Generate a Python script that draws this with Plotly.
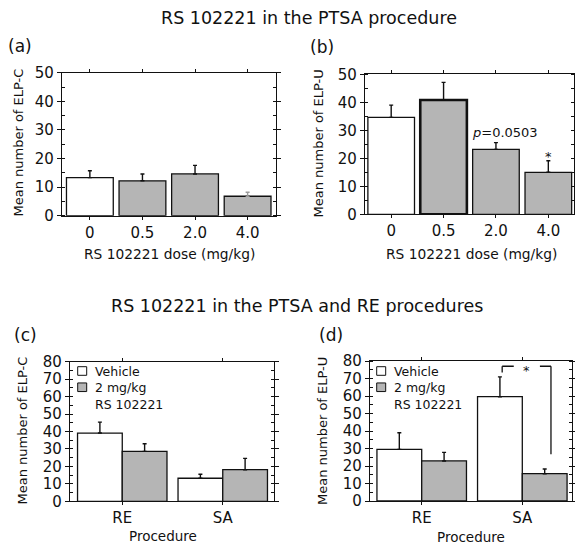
import plotly.graph_objects as go

# ---------------- data ----------------
doses = ["0", "0.5", "2.0", "4.0"]
elpc_mean = [13.3, 12.2, 14.6, 6.8]
elpc_sem = [2.4, 2.4, 3.0, 1.4]
elpu_mean = [34.6, 40.8, 23.2, 15.0]
elpu_sem = [4.4, 6.3, 2.4, 4.1]

procedures = ["RE", "SA"]
c_vehicle_mean = [39.1, 13.2]
c_vehicle_sem = [6.3, 2.3]
c_drug_mean = [28.6, 18.1]
c_drug_sem = [4.4, 6.5]
d_vehicle_mean = [29.5, 59.6]
d_vehicle_sem = [9.5, 11.3]
d_drug_mean = [22.9, 15.6]
d_drug_sem = [4.9, 2.7]

# ---------------- style ----------------
FONT = "DejaVu Sans"
INK = "#111111"
GRAY = "#b5b5b5"
W, H = 575, 551
BARGAP = 0.11


def px(x):
    return x / W


def py(y):
    return 1 - y / H


def err(values, color=INK):
    return dict(type="data", array=values, arrayminus=[0] * len(values),
                symmetric=False, color=color, thickness=1.4, width=2)


fig = go.Figure()

# (a) ELP-C dose response
a_err = [e if i < 3 else None for i, e in enumerate(elpc_sem)]
fig.add_trace(go.Bar(
    x=doses, y=elpc_mean, xaxis="x", yaxis="y",
    marker=dict(color=["white", GRAY, GRAY, GRAY], line=dict(color=INK, width=1.3)),
    error_y=err(a_err), showlegend=False))
fig.add_trace(go.Scatter(
    x=doses[3:], y=elpc_mean[3:], xaxis="x", yaxis="y", mode="markers",
    marker=dict(size=1, opacity=0), error_y=err(elpc_sem[3:], "#9a9a9a"),
    showlegend=False, hoverinfo="skip"))

# (b) ELP-U dose response
fig.add_trace(go.Bar(
    x=doses, y=elpu_mean, xaxis="x2", yaxis="y2",
    marker=dict(color=["white", GRAY, GRAY, GRAY],
                line=dict(color=INK, width=[1.3, 2.6, 1.3, 1.3])),
    error_y=err(elpu_sem), showlegend=False))

# (c) ELP-C, RE vs SA
fig.add_trace(go.Bar(x=procedures, y=c_vehicle_mean, xaxis="x3", yaxis="y3", name="Vehicle",
                     marker=dict(color="white", line=dict(color=INK, width=1.3)),
                     error_y=err(c_vehicle_sem), showlegend=False))
fig.add_trace(go.Bar(x=procedures, y=c_drug_mean, xaxis="x3", yaxis="y3", name="2 mg/kg RS 102221",
                     marker=dict(color=GRAY, line=dict(color=INK, width=1.3)),
                     error_y=err(c_drug_sem), showlegend=False))

# (d) ELP-U, RE vs SA
fig.add_trace(go.Bar(x=procedures, y=d_vehicle_mean, xaxis="x4", yaxis="y4", name="Vehicle",
                     marker=dict(color="white", line=dict(color=INK, width=1.3)),
                     error_y=err(d_vehicle_sem), showlegend=False))
fig.add_trace(go.Bar(x=procedures, y=d_drug_mean, xaxis="x4", yaxis="y4", name="2 mg/kg RS 102221",
                     marker=dict(color=GRAY, line=dict(color=INK, width=1.3)),
                     error_y=err(d_drug_sem), showlegend=False))


def yax(domain, top, anchor):
    return dict(domain=domain, range=[0, top], anchor=anchor, tickmode="linear", tick0=0, dtick=10,
                ticks="outside", ticklen=4, tickwidth=1.2, tickcolor=INK,
                showline=True, linecolor=INK, linewidth=1.3, mirror="ticks",
                showgrid=False, zeroline=False, automargin=False, fixedrange=True,
                tickfont=dict(family=FONT, size=15, color=INK),
                minor=dict(ticks="inside", tick0=0, dtick=5, ticklen=3, tickwidth=1,
                           tickcolor=INK, showgrid=False))


def xax(domain, rng, anchor):
    return dict(domain=domain, range=rng, anchor=anchor, type="category",
                ticks="outside", ticklen=3, tickwidth=1.2, tickcolor=INK,
                showline=True, linecolor=INK, linewidth=1.3, mirror="ticks",
                showgrid=False, zeroline=False, automargin=False, fixedrange=True,
                tickfont=dict(family=FONT, size=15, color=INK))


ann = []


def text(x, y, s, size=14, xanchor="center", yanchor="middle", angle=0, **kw):
    ann.append(dict(x=x, y=y, xref="paper", yref="paper", text=s, showarrow=False,
                    xanchor=xanchor, yanchor=yanchor, textangle=angle,
                    font=dict(family=FONT, size=size, color=INK), **kw))


# titles and panel labels
text(px(308.5), py(18), "RS 102221 in the PTSA procedure", size=17.5)
text(px(297), py(306), "RS 102221 in the PTSA and RE procedures", size=17.5)
text(px(6), py(46), "(a)", size=17, xanchor="left")
text(px(308), py(47), "(b)", size=17, xanchor="left")
text(px(12), py(335), "(c)", size=17, xanchor="left")
text(px(317), py(335), "(d)", size=17, xanchor="left")

# axis titles
text(px(169), py(253.5), "RS 102221 dose (mg/kg)", size=13.8)
text(px(471), py(253.5), "RS 102221 dose (mg/kg)", size=13.8)
text(px(163), py(536), "Procedure", size=13.5)
text(px(471), py(537), "Procedure", size=13.5)
text(px(17.5), py(143), "Mean number of ELP-C", size=13, angle=-90)
text(px(317.5), py(144), "Mean number of ELP-U", size=13, angle=-90)
text(px(21.5), py(431), "Mean number of ELP-C", size=13, angle=-90)
text(px(322), py(431), "Mean number of ELP-U", size=13, angle=-90)

# legends in (c) and (d): swatches + one wrapped text block
LEG_SIZE = 12.5
LINE = LEG_SIZE * 1.3
shapes = []
for left in (77.7, 376.7):
    first = 371
    for k, fill in enumerate(("white", GRAY)):
        cy = first + k * LINE
        shapes.append(dict(type="rect", xref="paper", yref="paper",
                           x0=px(left), x1=px(left + 9), y0=py(cy - 4.3), y1=py(cy + 4.3),
                           fillcolor=fill, line=dict(color=INK, width=1)))
    text(px(left + 15.5), py(first - LINE / 2 - 1), "Vehicle<br>2 mg/kg<br>RS 102221",
         size=LEG_SIZE, xanchor="left", yanchor="top", align="left")

# significance annotations in (b)
ann.append(dict(x=2, y=elpu_mean[2] + elpu_sem[2], xref="x2", yref="y2",
                text="<i>p</i>=0.0503", showarrow=False, xanchor="center", yanchor="bottom",
                xshift=9, yshift=1, font=dict(family=FONT, size=13, color=INK)))
ann.append(dict(x=3, y=elpu_mean[3] + elpu_sem[3], xref="x2", yref="y2",
                text="*", showarrow=False, xanchor="center", yanchor="middle",
                yshift=4, font=dict(family=FONT, size=13, color=INK)))

# bracket in (d) (category units on x4)
br_left, br_right = 0.80, 1.285
br_gap_l, br_gap_r = 0.915, 1.175
br_top, br_left_end, br_right_end = 77, 73.5, 26.7
bl = dict(color=INK, width=1.3)
shapes += [
    dict(type="line", xref="x4", yref="y4", x0=br_left, x1=br_left, y0=br_left_end, y1=br_top, line=bl),
    dict(type="line", xref="x4", yref="y4", x0=br_left, x1=br_gap_l, y0=br_top, y1=br_top, line=bl),
    dict(type="line", xref="x4", yref="y4", x0=br_gap_r, x1=br_right, y0=br_top, y1=br_top, line=bl),
    dict(type="line", xref="x4", yref="y4", x0=br_right, x1=br_right, y0=br_top, y1=br_right_end, line=bl),
]
ann.append(dict(x=(br_gap_l + br_gap_r) / 2, y=br_top, xref="x4", yref="y4", text="*",
                showarrow=False, xanchor="center", yanchor="middle", yshift=-4,
                font=dict(family=FONT, size=13, color=INK)))

fig.update_layout(
    width=W, height=H, margin=dict(l=0, r=0, t=0, b=0),
    paper_bgcolor="white", plot_bgcolor="white",
    barmode="group", bargap=BARGAP, bargroupgap=0, showlegend=False,
    font=dict(family=FONT, color=INK),
    xaxis=xax([px(62), px(276)], [-0.53, 3.54], "y"),
    yaxis=yax([py(215.7), py(72.7)], 50, "x"),
    xaxis2=xax([px(365), px(574)], [-0.5, 3.49], "y2"),
    yaxis2=yax([py(214.3), py(74.3)], 50, "x2"),
    xaxis3=xax([px(70), px(274)], [-0.52, 1.51], "y3"),
    yaxis3=yax([py(501.3), py(361.7)], 80, "x3"),
    xaxis4=xax([px(370), px(572.3)], [-0.514, 1.497], "y4"),
    yaxis4=yax([py(501), py(361)], 80, "x4"),
    annotations=ann, shapes=shapes,
)

fig.write_html("out.html", config={"displayModeBar": False},
               post_script="document.body.style.margin='0';document.body.style.overflow='hidden';")
